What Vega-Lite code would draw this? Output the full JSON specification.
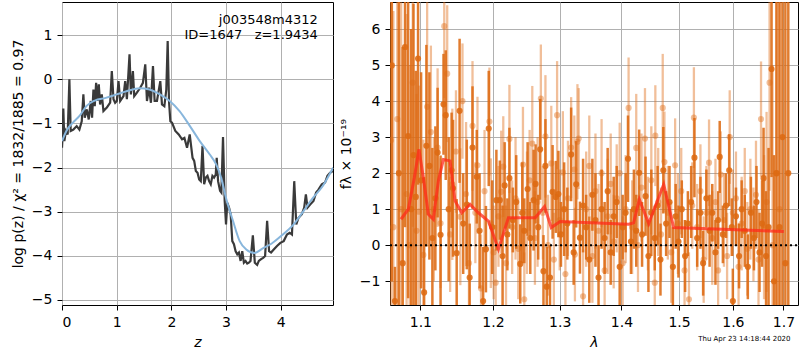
{
"$schema": "https://vega.github.io/schema/vega-lite/v6.json",
"padding": {"left": 10, "top": 1, "right": 0, "bottom": 0},
"spacing": 4,
"title": {"text": "Thu Apr 23 14:18:44 2020", "orient": "bottom", "anchor": "end", "fontSize": 7, "fontWeight": "normal", "offset": -15, "dx": -8, "color": "black"},
"config": {
  "font": "DejaVu Sans",
  "view": {"stroke": "black", "strokeWidth": 1},
  "axis": {"grid": true, "gridColor": "#b0b0b0", "gridWidth": 1, "gridOpacity": 1, "domain": false, "tickColor": "black", "tickSize": 5, "labelFontSize": 14, "labelColor": "black", "labelPadding": 5, "titleFontSize": 14, "titleFontWeight": "normal", "titleColor": "black", "titlePadding": 6}
},
"datasets": {
"pz": [{"z":0,"p":-1.55},{"z":0.012,"p":-1.25},{"z":0.024,"p":-0.66},{"z":0.043,"p":-1.4},{"z":0.073,"p":-1.17},{"z":0.104,"p":-1.25},{"z":0.135,"p":0.0},{"z":0.159,"p":-1.17},{"z":0.208,"p":-1.14},{"z":0.269,"p":-1.06},{"z":0.318,"p":-1.14},{"z":0.361,"p":-0.95},{"z":0.391,"p":-0.34},{"z":0.416,"p":-0.87},{"z":0.453,"p":-0.68},{"z":0.489,"p":-0.91},{"z":0.526,"p":-0.49},{"z":0.55,"p":-0.87},{"z":0.575,"p":-0.23},{"z":0.599,"p":-0.61},{"z":0.624,"p":-0.08},{"z":0.648,"p":-0.49},{"z":0.673,"p":-0.11},{"z":0.697,"p":-0.57},{"z":0.728,"p":-0.34},{"z":0.758,"p":-0.72},{"z":0.82,"p":-0.64},{"z":0.881,"p":-0.53},{"z":0.911,"p":0.19},{"z":0.942,"p":-0.45},{"z":0.972,"p":-0.53},{"z":1.003,"p":-0.49},{"z":1.034,"p":-0.04},{"z":1.064,"p":-0.49},{"z":1.125,"p":-0.38},{"z":1.156,"p":-0.04},{"z":1.187,"p":-0.45},{"z":1.235,"p":0.57},{"z":1.26,"p":-0.34},{"z":1.297,"p":0.19},{"z":1.321,"p":-0.38},{"z":1.37,"p":-0.3},{"z":1.431,"p":-0.19},{"z":1.48,"p":-0.08},{"z":1.523,"p":0.34},{"z":1.554,"p":-0.49},{"z":1.59,"p":-0.19},{"z":1.627,"p":-0.53},{"z":1.664,"p":0.3},{"z":1.694,"p":-0.49},{"z":1.737,"p":-0.49},{"z":1.798,"p":-0.04},{"z":1.829,"p":-0.57},{"z":1.872,"p":-0.61},{"z":1.908,"p":-0.23},{"z":1.933,"p":0.87},{"z":1.957,"p":-0.49},{"z":1.982,"p":-0.95},{"z":2.012,"p":-0.98},{"z":2.073,"p":-1.17},{"z":2.135,"p":-1.25},{"z":2.196,"p":-1.36},{"z":2.239,"p":-1.33},{"z":2.287,"p":-1.55},{"z":2.336,"p":-1.25},{"z":2.388,"p":-1.78},{"z":2.418,"p":-1.85},{"z":2.448,"p":-2.08},{"z":2.479,"p":-2.12},{"z":2.509,"p":-2.27},{"z":2.539,"p":-2.31},{"z":2.57,"p":-1.51},{"z":2.6,"p":-2.38},{"z":2.63,"p":-2.23},{"z":2.661,"p":-2.19},{"z":2.691,"p":-2.31},{"z":2.721,"p":-2.38},{"z":2.752,"p":-2.19},{"z":2.782,"p":-2.23},{"z":2.812,"p":-2.16},{"z":2.83,"p":-1.78},{"z":2.855,"p":-2.31},{"z":2.891,"p":-2.53},{"z":2.915,"p":-2.57},{"z":2.945,"p":-1.31},{"z":2.976,"p":-2.76},{"z":3.0,"p":-3.29},{"z":3.024,"p":-2.8},{"z":3.055,"p":-2.91},{"z":3.085,"p":-3.06},{"z":3.115,"p":-3.67},{"z":3.145,"p":-3.74},{"z":3.176,"p":-3.9},{"z":3.206,"p":-3.97},{"z":3.236,"p":-3.93},{"z":3.267,"p":-4.12},{"z":3.297,"p":-3.9},{"z":3.327,"p":-4.16},{"z":3.358,"p":-4.12},{"z":3.388,"p":-4.18},{"z":3.418,"p":-4.16},{"z":3.448,"p":-4.12},{"z":3.491,"p":-3.54},{"z":3.527,"p":-4.16},{"z":3.57,"p":-4.21},{"z":3.6,"p":-4.12},{"z":3.642,"p":-4.08},{"z":3.679,"p":-4.05},{"z":3.715,"p":-4.01},{"z":3.752,"p":-3.21},{"z":3.788,"p":-3.9},{"z":3.824,"p":-3.93},{"z":3.873,"p":-3.86},{"z":3.933,"p":-3.78},{"z":3.994,"p":-3.71},{"z":4.055,"p":-3.67},{"z":4.115,"p":-3.52},{"z":4.164,"p":-3.48},{"z":4.206,"p":-3.52},{"z":4.248,"p":-2.31},{"z":4.285,"p":-3.29},{"z":4.327,"p":-3.14},{"z":4.388,"p":-3.06},{"z":4.43,"p":-2.91},{"z":4.461,"p":-2.61},{"z":4.491,"p":-2.91},{"z":4.539,"p":-2.84},{"z":4.6,"p":-2.76},{"z":4.648,"p":-2.57},{"z":4.691,"p":-2.5},{"z":4.752,"p":-2.38},{"z":4.812,"p":-2.34},{"z":4.855,"p":-2.19},{"z":4.903,"p":-2.12},{"z":4.952,"p":-2.08}],
"pzs": [{"z":0,"p":-1.4},{"z":0.08,"p":-1.17},{"z":0.2,"p":-0.98},{"z":0.32,"p":-0.83},{"z":0.45,"p":-0.6},{"z":0.6,"p":-0.48},{"z":0.8,"p":-0.42},{"z":1.0,"p":-0.34},{"z":1.18,"p":-0.27},{"z":1.42,"p":-0.2},{"z":1.6,"p":-0.23},{"z":1.79,"p":-0.34},{"z":1.97,"p":-0.49},{"z":2.15,"p":-0.72},{"z":2.34,"p":-1.06},{"z":2.52,"p":-1.4},{"z":2.7,"p":-1.7},{"z":2.82,"p":-1.93},{"z":2.91,"p":-2.23},{"z":3.0,"p":-2.69},{"z":3.13,"p":-3.22},{"z":3.25,"p":-3.67},{"z":3.37,"p":-3.86},{"z":3.52,"p":-3.94},{"z":3.68,"p":-3.83},{"z":3.83,"p":-3.73},{"z":4.04,"p":-3.52},{"z":4.23,"p":-3.3},{"z":4.41,"p":-3.0},{"z":4.59,"p":-2.69},{"z":4.77,"p":-2.42},{"z":4.96,"p":-2.0}],
"lab": [{"z":4.68,"p":1.35,"t":"j003548m4312"},{"z":4.68,"p":1.0,"t":"ID=1647\u00a0\u00a0\u00a0z=1.9434"}],
"zero": [{"l":1.0607,"f":0},{"l":1.73,"f":0}],
"model": [{"l":1.0748,"f":0.72},{"l":1.0843,"f":1.0},{"l":1.0921,"f":1.87},{"l":1.0982,"f":2.66},{"l":1.104,"f":1.87},{"l":1.1106,"f":0.86},{"l":1.1173,"f":0.72},{"l":1.124,"f":1.78},{"l":1.1308,"f":2.38},{"l":1.1399,"f":2.34},{"l":1.1467,"f":1.23},{"l":1.156,"f":0.9},{"l":1.1676,"f":1.13},{"l":1.1793,"f":0.9},{"l":1.1935,"f":0.67},{"l":1.208,"f":-0.11},{"l":1.2225,"f":0.76},{"l":1.2624,"f":0.76},{"l":1.2766,"f":1.07},{"l":1.2869,"f":0.49},{"l":1.3008,"f":0.66},{"l":1.412,"f":0.58},{"l":1.4205,"f":0.62},{"l":1.4303,"f":1.27},{"l":1.4464,"f":0.6},{"l":1.4727,"f":1.69},{"l":1.4904,"f":0.49},{"l":1.7008,"f":0.38}],
"dk": [{"l":1.063,"f":4.99,"e":6},{"l":1.067,"f":-1.55,"e":0.95},{"l":1.072,"f":2.0,"e":5.5},{"l":1.077,"f":-0.5,"e":6},{"l":1.08,"f":5.5,"e":5},{"l":1.084,"f":3.03,"e":4.5},{"l":1.088,"f":1.0,"e":5},{"l":1.091,"f":2.5,"e":4.2},{"l":1.094,"f":1.34,"e":3.5},{"l":1.097,"f":5.18,"e":3.5},{"l":1.101,"f":1.8,"e":3.0},{"l":1.105,"f":-1.31,"e":3.2},{"l":1.108,"f":2.76,"e":2.8},{"l":1.112,"f":2.2,"e":2.6},{"l":1.116,"f":0.2,"e":2.5},{"l":1.12,"f":1.3,"e":2.0},{"l":1.123,"f":2.57,"e":1.8},{"l":1.127,"f":0.29,"e":2.2},{"l":1.131,"f":3.91,"e":1.4},{"l":1.134,"f":3.61,"e":1.8},{"l":1.138,"f":1.0,"e":2.0},{"l":1.142,"f":2.08,"e":1.6},{"l":1.144,"f":1.58,"e":1.9},{"l":1.149,"f":-0.22,"e":1.5},{"l":1.153,"f":3.73,"e":2.0},{"l":1.158,"f":0.6,"e":1.4},{"l":1.163,"f":1.13,"e":1.8},{"l":1.167,"f":-0.9,"e":1.5},{"l":1.171,"f":2.71,"e":1.7},{"l":1.177,"f":1.9,"e":1.3},{"l":1.181,"f":0.4,"e":1.6},{"l":1.186,"f":-1.55,"e":1.5},{"l":1.19,"f":-0.11,"e":1.2},{"l":1.194,"f":3.24,"e":1.6},{"l":1.199,"f":0.5,"e":1.3},{"l":1.205,"f":1.25,"e":1.4},{"l":1.21,"f":1.25,"e":1.1},{"l":1.214,"f":-0.3,"e":1.4},{"l":1.217,"f":1.66,"e":1.2},{"l":1.221,"f":0.3,"e":1.0},{"l":1.224,"f":1.86,"e":1.4},{"l":1.229,"f":0.7,"e":0.9},{"l":1.234,"f":1.2,"e":1.3},{"l":1.24,"f":-0.52,"e":1.1},{"l":1.243,"f":0.9,"e":1.4},{"l":1.246,"f":0.4,"e":0.9},{"l":1.251,"f":1.56,"e":1.3},{"l":1.255,"f":0.2,"e":1.0},{"l":1.26,"f":1.25,"e":1.4},{"l":1.263,"f":1.7,"e":1.1},{"l":1.267,"f":0.5,"e":0.9},{"l":1.27,"f":2.66,"e":1.4},{"l":1.275,"f":-0.72,"e":1.0},{"l":1.278,"f":2.2,"e":1.3},{"l":1.28,"f":-1.15,"e":1.1},{"l":1.285,"f":-0.9,"e":0.9},{"l":1.289,"f":1.48,"e":1.3},{"l":1.294,"f":1.34,"e":1.0},{"l":1.298,"f":1.42,"e":1.2},{"l":1.302,"f":0.3,"e":0.9},{"l":1.307,"f":1.0,"e":1.3},{"l":1.312,"f":0.6,"e":1.0},{"l":1.318,"f":2.52,"e":1.3},{"l":1.322,"f":-0.2,"e":0.9},{"l":1.326,"f":1.69,"e":1.2},{"l":1.332,"f":0.21,"e":1.0},{"l":1.337,"f":1.1,"e":1.3},{"l":1.342,"f":0.5,"e":0.9},{"l":1.347,"f":-0.4,"e":1.2},{"l":1.352,"f":1.4,"e":1.0},{"l":1.357,"f":0.7,"e":1.3},{"l":1.362,"f":-0.9,"e":0.9},{"l":1.367,"f":1.0,"e":1.1},{"l":1.372,"f":0.2,"e":1.0},{"l":1.377,"f":1.5,"e":1.2},{"l":1.382,"f":-0.2,"e":0.9},{"l":1.387,"f":0.8,"e":1.1},{"l":1.392,"f":1.2,"e":1.0},{"l":1.397,"f":-0.6,"e":1.2},{"l":1.402,"f":0.5,"e":0.9},{"l":1.407,"f":0.9,"e":1.1},{"l":1.411,"f":2.4,"e":1.2},{"l":1.416,"f":0.1,"e":0.9},{"l":1.421,"f":1.0,"e":1.1},{"l":1.425,"f":0.4,"e":1.0},{"l":1.43,"f":2.01,"e":1.2},{"l":1.435,"f":0.3,"e":0.9},{"l":1.441,"f":1.36,"e":1.1},{"l":1.446,"f":-0.3,"e":1.0},{"l":1.451,"f":0.9,"e":1.2},{"l":1.457,"f":0.2,"e":0.9},{"l":1.462,"f":1.1,"e":1.1},{"l":1.467,"f":-0.4,"e":1.0},{"l":1.472,"f":2.08,"e":1.2},{"l":1.477,"f":0.6,"e":0.9},{"l":1.483,"f":1.2,"e":1.0},{"l":1.489,"f":-0.6,"e":1.1},{"l":1.494,"f":0.8,"e":0.9},{"l":1.499,"f":0.1,"e":1.0},{"l":1.505,"f":1.0,"e":0.8},{"l":1.511,"f":-0.3,"e":1.0},{"l":1.516,"f":0.6,"e":0.9},{"l":1.522,"f":1.2,"e":1.0},{"l":1.528,"f":2.43,"e":1.1},{"l":1.533,"f":0.2,"e":0.8},{"l":1.539,"f":0.9,"e":1.0},{"l":1.544,"f":-0.5,"e":0.9},{"l":1.55,"f":1.3,"e":0.8},{"l":1.556,"f":0.4,"e":1.0},{"l":1.561,"f":0.9,"e":0.8},{"l":1.567,"f":-0.2,"e":0.9},{"l":1.572,"f":0.7,"e":0.8},{"l":1.575,"f":2.45,"e":1.0},{"l":1.581,"f":0.3,"e":0.8},{"l":1.587,"f":1.1,"e":0.9},{"l":1.593,"f":2.08,"e":1.0},{"l":1.598,"f":0.5,"e":0.8},{"l":1.6,"f":-1.55,"e":0.9},{"l":1.606,"f":0.8,"e":0.8},{"l":1.612,"f":-0.3,"e":0.9},{"l":1.617,"f":1.0,"e":0.8},{"l":1.623,"f":0.4,"e":1.0},{"l":1.629,"f":-0.6,"e":0.9},{"l":1.635,"f":0.9,"e":1.0},{"l":1.641,"f":0.2,"e":0.9},{"l":1.646,"f":1.2,"e":1.0},{"l":1.652,"f":-0.2,"e":1.1},{"l":1.657,"f":0.6,"e":1.2},{"l":1.66,"f":1.86,"e":1.4},{"l":1.665,"f":-0.3,"e":1.8},{"l":1.67,"f":0.5,"e":2.2},{"l":1.676,"f":4.89,"e":3.0},{"l":1.681,"f":-1.0,"e":3.5},{"l":1.686,"f":2.0,"e":6},{"l":1.692,"f":0.5,"e":8},{"l":1.698,"f":3.0,"e":8},{"l":1.704,"f":-0.5,"e":9},{"l":1.71,"f":2.0,"e":9}],
"lt": [{"l":1.062,"f":2.91,"e":6},{"l":1.065,"f":0.5,"e":6},{"l":1.07,"f":3.5,"e":6},{"l":1.075,"f":1.0,"e":6},{"l":1.082,"f":1.42,"e":5},{"l":1.086,"f":0.0,"e":5},{"l":1.09,"f":4.51,"e":4},{"l":1.095,"f":0.4,"e":3.8},{"l":1.098,"f":0.93,"e":3.5},{"l":1.104,"f":-0.27,"e":3.2},{"l":1.109,"f":3.84,"e":3},{"l":1.114,"f":3.14,"e":2.4},{"l":1.118,"f":1.0,"e":2.0},{"l":1.123,"f":2.71,"e":2.2},{"l":1.127,"f":0.61,"e":1.8},{"l":1.132,"f":6.08,"e":2.0},{"l":1.136,"f":4.76,"e":1.9},{"l":1.14,"f":0.3,"e":1.6},{"l":1.143,"f":1.69,"e":2.1},{"l":1.148,"f":2.6,"e":1.7},{"l":1.154,"f":0.79,"e":1.9},{"l":1.157,"f":4.0,"e":1.6},{"l":1.162,"f":1.42,"e":2.0},{"l":1.166,"f":-0.5,"e":1.5},{"l":1.171,"f":3.31,"e":1.8},{"l":1.175,"f":0.9,"e":1.4},{"l":1.178,"f":2.22,"e":1.9},{"l":1.183,"f":-1.2,"e":1.5},{"l":1.188,"f":1.5,"e":1.7},{"l":1.195,"f":3.43,"e":1.5},{"l":1.197,"f":0.61,"e":1.8},{"l":1.201,"f":-0.2,"e":1.3},{"l":1.204,"f":-1.04,"e":1.6},{"l":1.208,"f":0.8,"e":1.4},{"l":1.212,"f":1.48,"e":1.7},{"l":1.215,"f":2.18,"e":1.4},{"l":1.219,"f":-0.5,"e":1.6},{"l":1.224,"f":2.95,"e":1.5},{"l":1.228,"f":0.5,"e":1.3},{"l":1.233,"f":1.3,"e":1.7},{"l":1.237,"f":-0.1,"e":1.4},{"l":1.244,"f":2.24,"e":1.6},{"l":1.246,"f":-1.5,"e":1.3},{"l":1.25,"f":0.9,"e":1.7},{"l":1.254,"f":1.8,"e":1.4},{"l":1.258,"f":2.82,"e":1.6},{"l":1.262,"f":0.2,"e":1.3},{"l":1.266,"f":1.2,"e":1.8},{"l":1.271,"f":4.07,"e":1.5},{"l":1.274,"f":0.9,"e":1.3},{"l":1.278,"f":3.02,"e":1.7},{"l":1.282,"f":0.0,"e":1.4},{"l":1.287,"f":2.27,"e":1.6},{"l":1.291,"f":-0.4,"e":1.3},{"l":1.296,"f":3.61,"e":1.5},{"l":1.3,"f":0.7,"e":1.4},{"l":1.305,"f":2.02,"e":1.7},{"l":1.309,"f":-0.8,"e":1.3},{"l":1.313,"f":1.3,"e":1.6},{"l":1.318,"f":2.71,"e":1.4},{"l":1.323,"f":2.1,"e":1.5},{"l":1.324,"f":-0.26,"e":1.3},{"l":1.328,"f":2.87,"e":1.6},{"l":1.33,"f":2.96,"e":1.4},{"l":1.337,"f":-1.42,"e":1.3},{"l":1.342,"f":1.0,"e":1.6},{"l":1.347,"f":2.2,"e":1.4},{"l":1.352,"f":-0.3,"e":1.3},{"l":1.357,"f":1.5,"e":1.6},{"l":1.362,"f":0.4,"e":1.3},{"l":1.367,"f":2.0,"e":1.5},{"l":1.372,"f":-0.7,"e":1.3},{"l":1.377,"f":0.8,"e":1.6},{"l":1.382,"f":1.7,"e":1.4},{"l":1.387,"f":0.1,"e":1.3},{"l":1.392,"f":1.3,"e":1.5},{"l":1.397,"f":2.0,"e":1.4},{"l":1.402,"f":-0.5,"e":1.3},{"l":1.407,"f":1.0,"e":1.5},{"l":1.412,"f":3.81,"e":1.4},{"l":1.418,"f":0.5,"e":1.3},{"l":1.425,"f":2.7,"e":1.5},{"l":1.428,"f":0.0,"e":1.3},{"l":1.434,"f":1.6,"e":1.5},{"l":1.44,"f":2.96,"e":1.4},{"l":1.445,"f":0.6,"e":1.3},{"l":1.451,"f":1.8,"e":1.5},{"l":1.457,"f":-1.04,"e":1.3},{"l":1.458,"f":3.04,"e":1.4},{"l":1.463,"f":1.2,"e":1.5},{"l":1.468,"f":0.3,"e":1.3},{"l":1.471,"f":3.81,"e":1.5},{"l":1.474,"f":2.31,"e":1.4},{"l":1.48,"f":0.9,"e":1.3},{"l":1.486,"f":-0.2,"e":1.4},{"l":1.493,"f":2.22,"e":1.3},{"l":1.498,"f":0.6,"e":1.4},{"l":1.504,"f":1.5,"e":1.2},{"l":1.51,"f":-0.7,"e":1.4},{"l":1.518,"f":-1.5,"e":1.3},{"l":1.524,"f":1.1,"e":1.2},{"l":1.527,"f":3.54,"e":1.4},{"l":1.533,"f":0.5,"e":1.2},{"l":1.539,"f":1.5,"e":1.3},{"l":1.545,"f":-0.4,"e":1.2},{"l":1.55,"f":0.9,"e":1.3},{"l":1.555,"f":2.29,"e":1.2},{"l":1.561,"f":0.2,"e":1.3},{"l":1.567,"f":1.2,"e":1.2},{"l":1.572,"f":-0.7,"e":1.3},{"l":1.577,"f":1.96,"e":1.2},{"l":1.583,"f":0.7,"e":1.3},{"l":1.589,"f":-0.3,"e":1.2},{"l":1.594,"f":3.0,"e":1.3},{"l":1.6,"f":0.9,"e":1.2},{"l":1.606,"f":1.3,"e":1.3},{"l":1.611,"f":-0.6,"e":1.2},{"l":1.617,"f":0.6,"e":1.3},{"l":1.623,"f":1.5,"e":1.2},{"l":1.628,"f":-0.1,"e":1.3},{"l":1.634,"f":1.0,"e":1.4},{"l":1.64,"f":0.3,"e":1.3},{"l":1.645,"f":1.4,"e":1.5},{"l":1.65,"f":-0.4,"e":1.4},{"l":1.655,"f":3.5,"e":1.6},{"l":1.661,"f":0.5,"e":2.0},{"l":1.666,"f":1.2,"e":2.5},{"l":1.672,"f":4.51,"e":3.0},{"l":1.678,"f":0.0,"e":5},{"l":1.686,"f":2.0,"e":8},{"l":1.692,"f":1.0,"e":8}]
},
"hconcat": [
{
  "width": 271, "height": 303,
  "layer": [
    {"data": {"name": "pz"}, "mark": {"type": "line", "color": "#3a3a3a", "strokeWidth": 2.2, "clip": true},
     "encoding": {
       "x": {"field": "z", "type": "quantitative", "scale": {"domain": [0, 4.957], "nice": false, "zero": false}, "axis": {"values": [0, 1, 2, 3, 4], "title": "z", "titleFontStyle": "italic"}},
       "y": {"field": "p", "type": "quantitative", "scale": {"domain": [-5.12, 1.756], "nice": false, "zero": false}, "axis": {"values": [-5, -4, -3, -2, -1, 0, 1], "title": "log p(z) / χ² = 1832/1885 = 0.97"}}
     }},
    {"data": {"name": "pzs"}, "mark": {"type": "line", "color": "#88b6dc", "strokeWidth": 2, "interpolate": "monotone", "clip": true},
     "encoding": {"x": {"field": "z", "type": "quantitative", "title": "z"}, "y": {"field": "p", "type": "quantitative", "title": "log p(z) / χ² = 1832/1885 = 0.97"}}},
    {"data": {"name": "lab"}, "mark": {"type": "text", "align": "right", "baseline": "middle", "fontSize": 13, "color": "black"},
     "encoding": {"x": {"field": "z", "type": "quantitative", "title": "z"}, "y": {"field": "p", "type": "quantitative", "title": "log p(z) / χ² = 1832/1885 = 0.97"}, "text": {"field": "t"}}}
  ]
},
{
  "width": 408, "height": 303,
  "layer": [
    {"data": {"name": "lt"}, "mark": {"type": "errorbar", "thickness": 2.3, "color": "#e07020", "opacity": 0.45, "clip": true},
     "encoding": {
       "x": {"field": "l", "type": "quantitative", "title": "λ", "scale": {"type": "log", "domain": [1.0607, 1.73], "nice": false, "clamp": true}, "axis": {"values": [1.1, 1.2, 1.3, 1.4, 1.5, 1.6, 1.7], "format": ".1f", "titleFontStyle": "italic"}},
       "y": {"field": "f", "type": "quantitative", "title": "fλ × 10⁻¹⁹", "scale": {"domain": [-1.66, 6.75], "nice": false, "zero": false, "clamp": true}, "axis": {"values": [-1, 0, 1, 2, 3, 4, 5, 6]}},
       "yError": {"field": "e"}
     }},
    {"data": {"name": "lt"}, "mark": {"type": "point", "filled": true, "size": 38, "color": "#e07020", "opacity": 0.45, "clip": true},
     "encoding": {"x": {"field": "l", "type": "quantitative", "title": "λ"}, "y": {"field": "f", "type": "quantitative", "title": "fλ × 10⁻¹⁹"}}},
    {"data": {"name": "dk"}, "mark": {"type": "errorbar", "thickness": 2.5, "color": "#dd6a12", "opacity": 0.88, "clip": true},
     "encoding": {"x": {"field": "l", "type": "quantitative", "title": "λ"}, "y": {"field": "f", "type": "quantitative", "title": "fλ × 10⁻¹⁹"}, "yError": {"field": "e"}}},
    {"data": {"name": "dk"}, "mark": {"type": "point", "filled": true, "size": 38, "color": "#dd6a12", "opacity": 0.88, "clip": true},
     "encoding": {"x": {"field": "l", "type": "quantitative", "title": "λ"}, "y": {"field": "f", "type": "quantitative", "title": "fλ × 10⁻¹⁹"}}},
    {"data": {"name": "model"}, "mark": {"type": "line", "color": "#ff2a1a", "strokeWidth": 3, "opacity": 0.75, "clip": true},
     "encoding": {"x": {"field": "l", "type": "quantitative", "title": "λ"}, "y": {"field": "f", "type": "quantitative", "title": "fλ × 10⁻¹⁹"}}},
    {"data": {"name": "zero"}, "mark": {"type": "line", "color": "black", "strokeWidth": 2, "strokeDash": [2, 3], "clip": true},
     "encoding": {"x": {"field": "l", "type": "quantitative", "title": "λ"}, "y": {"field": "f", "type": "quantitative", "title": "fλ × 10⁻¹⁹"}}}
  ]
}
]
}
